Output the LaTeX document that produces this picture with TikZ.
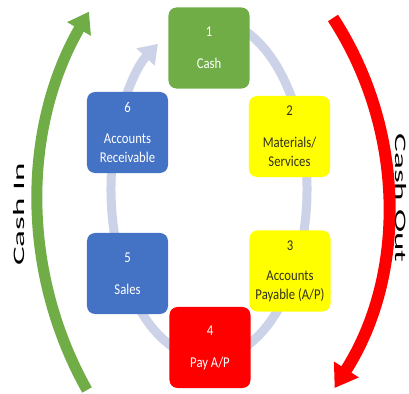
\documentclass[tikz,border=0pt]{standalone}
\usepackage{fontspec}
\setmainfont{Carlito}
\newfontfamily\sidefont[FakeStretch=2.2]{Carlito}
\newfontfamily\stepfont[FakeStretch=0.85]{Carlito}
\usepackage{tikz}
\usetikzlibrary{arrows.meta}

\definecolor{cashgreen}{RGB}{112,173,71}
\definecolor{matyellow}{RGB}{255,255,0}
\definecolor{salesblue}{RGB}{68,114,196}
\definecolor{payred}{RGB}{255,0,0}
\definecolor{ringgray}{RGB}{204,211,232}
\definecolor{darktext}{RGB}{50,50,30}

\tikzset{
  stepbox/.style={rounded corners=8bp, minimum width=81bp, minimum height=81bp,
    inner sep=2bp, align=center, font=\stepfont\fontsize{15}{19}\selectfont},
  sidelabel/.style={font=\sidefont\fontsize{16}{16}\selectfont}
}

\begin{document}
\begin{tikzpicture}[x=1bp,y=1bp]
  \useasboundingbox (0,0) rectangle (409,394);

  % Draw the cycle ring behind the boxes
  \coordinate (ringc) at (209,205);
  \draw[ringgray, line width=9bp, -{Triangle[length=18bp,width=24bp]}]
    (ringc) ++(80:98bp and 170bp)
    arc[start angle=80, end angle=-238.6, x radius=98bp, y radius=170bp];

  % Draw the six steps
  \node[stepbox, fill=cashgreen, text=white] (cash) at (209,346) {1\\[13bp]Cash};
  \node[stepbox, fill=matyellow, text=darktext] (materials) at (289.5,257.5) {2\\[13bp]Materials/\\Services};
  \node[stepbox, fill=matyellow, text=darktext] (payable) at (290,123) {3\\[11bp]Accounts\\Payable (A/P)};
  \node[stepbox, fill=payred, text=white] (payap) at (210,46.5) {4\\[13bp]Pay A/P};
  \node[stepbox, fill=salesblue, text=white] (sales) at (127.5,120.5) {5\\[13bp]Sales};
  \node[stepbox, fill=salesblue, text=white] (receivable) at (127.5,261.5) {6\\[13bp]Accounts\\Receivable};

  % Draw the cash in and cash out arrows
  \coordinate (instart) at (87,4);
  \draw[cashgreen, line width=11bp, -{Triangle[length=20bp,width=26bp]}]
    (instart) arc[start angle=209.3, end angle=150.1, radius=383bp];
  \coordinate (outstart) at (333,376);
  \draw[payred, line width=12bp, -{Triangle[length=22bp,width=28bp]}]
    (outstart) arc[start angle=33, end angle=-32.5, radius=342bp];

  % Side labels
  \node[sidelabel, rotate=90] (cashin) at (19,179.5) {Cash In};
  \node[sidelabel, rotate=-90] (cashout) at (401,196) {Cash Out};
\end{tikzpicture}
\end{document}
